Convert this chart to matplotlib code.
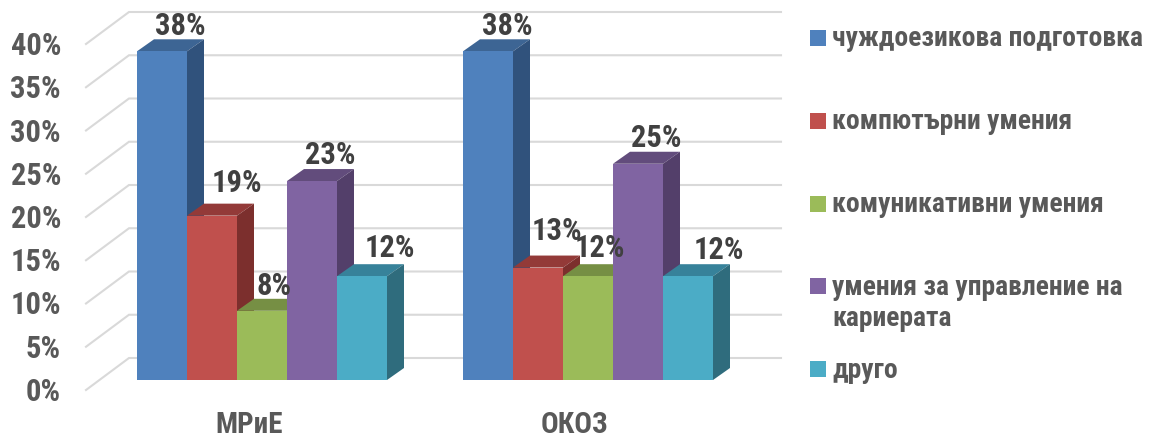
import matplotlib
matplotlib.use("Agg")
import matplotlib.pyplot as plt
from matplotlib.patches import Polygon, Rectangle
from matplotlib.transforms import Affine2D

categories = ["МРиЕ", "ОКОЗ"]
chuzhdoezikova = [38, 38]
kompyutarni = [19, 13]
komunikativni = [8, 12]
kariera = [23, 25]
drugo = [12, 12]
series_names = ["чуждоезикова подготовка", "компютърни умения", "комуникативни умения",
                "умения за управление на\nкариерата", "друго"]
ticks = [0, 5, 10, 15, 20, 25, 30, 35, 40]

series = [chuzhdoezikova, kompyutarni, komunikativni, kariera, drugo]
front = ["#4F81BD", "#C0504D", "#9BBB59", "#8064A2", "#4BACC6"]
top = ["#3D6594", "#933A38", "#768F44", "#624C7C", "#37829A"]
side = ["#30527C", "#7C2F2D", "#64803A", "#533F6A", "#2F6C7D"]
# label offsets from bar centre / bar top, in pixels: [category][series]
nudges = [[(18, 25), (25, 33), (12, 25), (18, 26), (28, 28)],
          [(19, 25), (19, 37), (12, 28), (18, 26), (31, 26)]]

W, H = 1149, 438
plt.rcParams["font.family"] = ["Roboto Condensed", "PT Sans Narrow", "Liberation Sans", "DejaVu Sans"]
plt.rcParams["font.weight"] = "bold"
fig = plt.figure(figsize=(W / 100, H / 100), dpi=100)
ax = fig.add_axes([86 / W, (H - 390) / H, 652 / W, 346 / H])
ax.set_xlim(0, 2)
ax.set_ylim(0, 40)
ax.set_frame_on(False)
PX = 326.0   # pixels per x unit
PY = 8.65    # pixels per percent
wall_dx, wall_dy = 43 / PX, 32 / PY
bar_dx, bar_dy = 13 / PX, 10 / PY
dep_dx, dep_dy = 17 / PX, 12 / PY
bw = 50 / PX

for t in ticks:
    ax.plot([0, wall_dx, 2 + wall_dx], [t, t + wall_dy, t + wall_dy], color="#D9D9D9",
            lw=1.5, clip_on=False, zorder=1, solid_joinstyle="miter")

for c in range(len(categories)):
    centre = c + 0.5 + bar_dx
    x0 = centre - 2.5 * bw
    for s, vals in enumerate(series):
        v = vals[c]
        xl = x0 + s * bw
        xr = xl + bw
        y0 = bar_dy
        y1 = v + bar_dy
        z = 2 + s * 0.1
        ax.add_patch(Polygon([(xl, y1), (xr, y1), (xr + dep_dx, y1 + dep_dy), (xl + dep_dx, y1 + dep_dy)],
                             fc=top[s], ec="none", clip_on=False, zorder=z))
        ax.add_patch(Polygon([(xr, y0), (xr + dep_dx, y0 + dep_dy), (xr + dep_dx, y1 + dep_dy), (xr, y1)],
                             fc=side[s], ec="none", clip_on=False, zorder=z))
        ax.add_patch(Rectangle((xl, y0), bw, v, fc=front[s], ec="none", clip_on=False, zorder=z + 0.01))
        nx, ny = nudges[c][s]
        ax.annotate(f"{v}%", xy=(xl + bw / 2, y1), xytext=(nx * 0.72, ny * 0.72), textcoords="offset points",
                    ha="center", va="center", fontsize=22, color="#404040", zorder=5, annotation_clip=False)

ax.set_yticks(ticks)
ax.set_yticklabels([f"{t}%" for t in ticks], fontsize=22, color="#595959", va="center")
ax.set_xticks([0.5, 1.5])
ax.set_xticklabels(categories, fontsize=21, color="#595959")
ax.tick_params(axis="both", length=0)
ax.tick_params(axis="y", pad=18)
ax.tick_params(axis="x", pad=15)
for tick in ax.yaxis.get_major_ticks():
    tick.label1.set_transform(tick.label1.get_transform() + Affine2D().translate(0, -2))

# legend
leg = fig.add_axes([0, 0, 1, 1])
leg.set_xlim(0, W)
leg.set_ylim(H, 0)
leg.axis("off")
leg.patch.set_alpha(0)
for i, name in enumerate(series_names):
    yc = 38 + i * 82.75
    leg.add_patch(Rectangle((810, yc - 8), 16, 16, fc=front[i], ec="none"))
    leg.text(832, yc - 12.5, name, ha="left", va="top", fontsize=19.9, color="#595959", linespacing=1.2)

fig.savefig("out.png", dpi=100)
